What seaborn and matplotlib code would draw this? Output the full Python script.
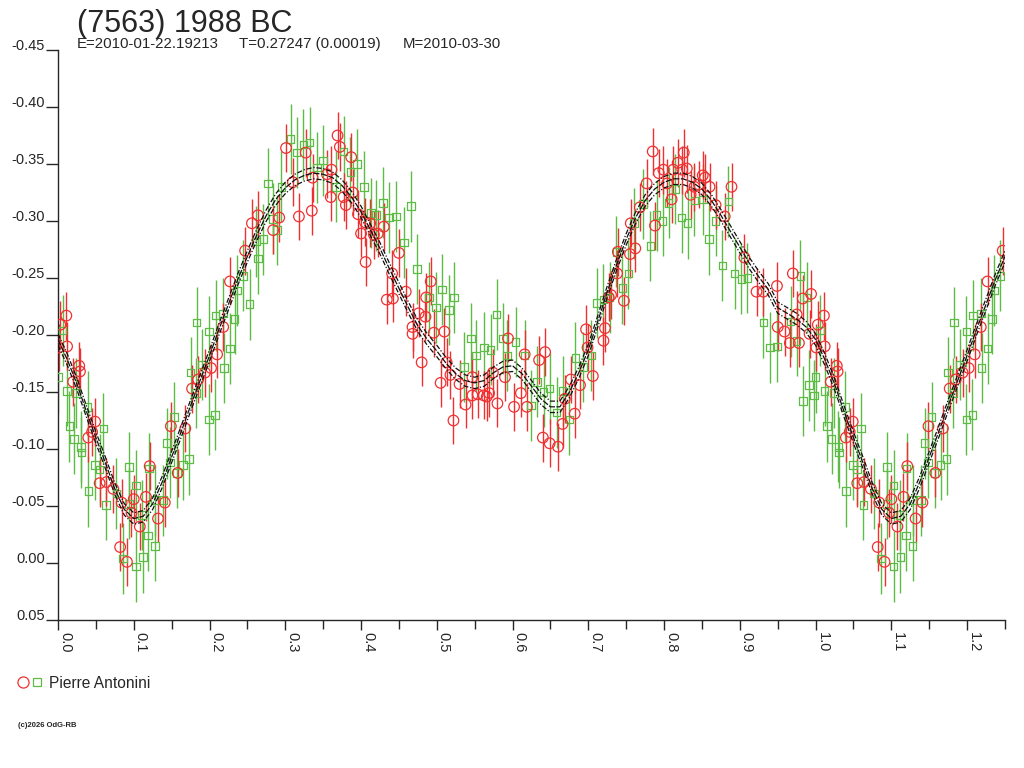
import numpy as np
import pandas as pd
import matplotlib
matplotlib.use("Agg")
import matplotlib.pyplot as plt
import seaborn as sns
from matplotlib.lines import Line2D
from matplotlib.legend_handler import HandlerTuple

# ---------------- data ----------------
title = "(7563) 1988 BC"
subtitle_parts = ["E=2010-01-22.19213", "T=0.27247 (0.00019)", "M=2010-03-30"]
observer = "Pierre Antonini"
copyright_txt = "(c)2026 OdG-RB"

red_phase = [0.001, 0.003, 0.011, 0.012, 0.020, 0.028, 0.029, 0.040, 0.045, 0.049, 0.055, 0.064, 0.073, 0.082,
             0.084, 0.091, 0.097, 0.100, 0.108, 0.116, 0.121, 0.132, 0.141, 0.149, 0.158, 0.168, 0.177, 0.185,
             0.194, 0.202, 0.210, 0.218, 0.227, 0.247, 0.256, 0.264, 0.284, 0.292, 0.301, 0.310, 0.318, 0.327,
             0.335, 0.336, 0.355, 0.360, 0.361, 0.369, 0.372, 0.377, 0.380, 0.387, 0.389, 0.396, 0.400, 0.405,
             0.406, 0.412, 0.417, 0.422, 0.430, 0.434, 0.441, 0.442, 0.450, 0.459, 0.468, 0.468, 0.476, 0.480,
             0.485, 0.486, 0.492, 0.496, 0.505, 0.510, 0.513, 0.518, 0.522, 0.530, 0.538, 0.547, 0.547, 0.554,
             0.562, 0.566, 0.569, 0.574, 0.580, 0.590, 0.594, 0.602, 0.611, 0.616, 0.619, 0.635, 0.640, 0.643,
             0.649, 0.660, 0.666, 0.669, 0.677, 0.682, 0.689, 0.697, 0.699, 0.706, 0.720, 0.722, 0.727, 0.730,
             0.738, 0.739, 0.747, 0.755, 0.756, 0.762, 0.768, 0.777, 0.785, 0.788, 0.793, 0.799, 0.804, 0.810,
             0.812, 0.818, 0.824, 0.826, 0.830, 0.835, 0.840, 0.846, 0.851, 0.854, 0.860, 0.868, 0.880, 0.889,
             0.906, 0.922, 0.931, 0.949, 0.950, 0.959, 0.966, 0.970, 0.975, 0.978, 0.983, 0.992, 0.994]
red_mag = [-0.189, -0.209, -0.217, -0.190, -0.159, -0.173, -0.168, -0.110, -0.115, -0.124, -0.070, -0.071, -0.065, -0.014,
           -0.053, -0.001, -0.044, -0.056, -0.032, -0.058, -0.085, -0.039, -0.053, -0.120, -0.079, -0.118, -0.153, -0.161,
           -0.167, -0.171, -0.183, -0.207, -0.247, -0.274, -0.298, -0.305, -0.292, -0.303, -0.364, -0.334, -0.304, -0.360,
           -0.309, -0.338, -0.341, -0.321, -0.345, -0.375, -0.365, -0.321, -0.314, -0.356, -0.325, -0.306, -0.289, -0.299,
           -0.264, -0.298, -0.288, -0.289, -0.295, -0.231, -0.254, -0.232, -0.272, -0.238, -0.207, -0.201, -0.219, -0.176,
           -0.216, -0.233, -0.247, -0.202, -0.158, -0.203, -0.176, -0.165, -0.125, -0.157, -0.139, -0.163, -0.147, -0.148,
           -0.147, -0.146, -0.149, -0.167, -0.140, -0.163, -0.197, -0.137, -0.149, -0.183, -0.137, -0.178, -0.110, -0.185,
           -0.105, -0.102, -0.122, -0.144, -0.161, -0.131, -0.156, -0.205, -0.189, -0.164, -0.195, -0.206, -0.233, -0.235,
           -0.254, -0.273, -0.230, -0.271, -0.298, -0.276, -0.312, -0.333, -0.361, -0.296, -0.342, -0.345, -0.333, -0.319,
           -0.345, -0.351, -0.345, -0.360, -0.346, -0.323, -0.330, -0.332, -0.340, -0.338, -0.330, -0.314, -0.304, -0.330,
           -0.268, -0.238, -0.238, -0.243, -0.207, -0.203, -0.193, -0.254, -0.218, -0.193, -0.232, -0.201, -0.236]

green_phase = [0.000, 0.006, 0.012, 0.015, 0.021, 0.024, 0.030, 0.031, 0.039, 0.040, 0.049, 0.055, 0.060, 0.063,
               0.077, 0.086, 0.094, 0.094, 0.103, 0.103, 0.111, 0.112, 0.119, 0.120, 0.128, 0.128, 0.139, 0.144,
               0.148, 0.153, 0.157, 0.165, 0.173, 0.175, 0.182, 0.183, 0.190, 0.199, 0.199, 0.207, 0.208, 0.218,
               0.219, 0.227, 0.233, 0.236, 0.244, 0.253, 0.262, 0.264, 0.271, 0.277, 0.284, 0.289, 0.295, 0.307,
               0.315, 0.324, 0.332, 0.342, 0.350, 0.367, 0.377, 0.386, 0.395, 0.404, 0.413, 0.420, 0.429, 0.437,
               0.446, 0.457, 0.466, 0.474, 0.490, 0.499, 0.507, 0.516, 0.523, 0.536, 0.545, 0.552, 0.562, 0.571,
               0.579, 0.587, 0.593, 0.604, 0.616, 0.624, 0.632, 0.641, 0.649, 0.658, 0.666, 0.675, 0.683, 0.693,
               0.704, 0.711, 0.720, 0.728, 0.737, 0.745, 0.753, 0.760, 0.772, 0.782, 0.790, 0.798, 0.806, 0.815,
               0.823, 0.831, 0.840, 0.851, 0.859, 0.868, 0.877, 0.885, 0.893, 0.902, 0.910, 0.931, 0.940, 0.949,
               0.967, 0.975, 0.980, 0.983, 0.988, 0.991, 0.998]
green_mag = [-0.163, -0.204, -0.151, -0.120, -0.109, -0.149, -0.102, -0.097, -0.137, -0.063, -0.086, -0.082, -0.118, -0.051,
             -0.061, -0.004, -0.084, -0.052, -0.068, 0.003, -0.042, -0.005, -0.024, -0.083, -0.015, -0.055, -0.055, -0.105,
             -0.088, -0.128, -0.079, -0.086, -0.091, -0.167, -0.149, -0.211, -0.174, -0.203, -0.126, -0.130, -0.217, -0.219,
             -0.171, -0.188, -0.214, -0.239, -0.252, -0.227, -0.282, -0.267, -0.284, -0.333, -0.302, -0.292, -0.330, -0.372,
             -0.360, -0.367, -0.369, -0.347, -0.353, -0.330, -0.361, -0.343, -0.350, -0.330, -0.307, -0.305, -0.316, -0.303,
             -0.304, -0.281, -0.313, -0.258, -0.233, -0.224, -0.240, -0.222, -0.233, -0.172, -0.197, -0.182, -0.189, -0.187,
             -0.218, -0.197, -0.182, -0.194, -0.182, -0.138, -0.159, -0.150, -0.153, -0.132, -0.151, -0.126, -0.180, -0.172,
             -0.182, -0.228, -0.231, -0.233, -0.273, -0.241, -0.254, -0.298, -0.315, -0.278, -0.305, -0.300, -0.316, -0.328,
             -0.303, -0.298, -0.318, -0.319, -0.284, -0.300, -0.261, -0.317, -0.254, -0.249, -0.250, -0.211, -0.189, -0.190,
             -0.212, -0.195, -0.252, -0.142, -0.233, -0.156, -0.147]

red_err = 0.021
green_err = 0.031

fit_phase = [0.0, 0.0125, 0.025, 0.0375, 0.05, 0.0625, 0.075, 0.0875, 0.1, 0.1125, 0.125, 0.1375, 0.15, 0.1625,
             0.175, 0.1875, 0.2, 0.2125, 0.225, 0.2375, 0.25, 0.2625, 0.275, 0.2875, 0.3, 0.3125, 0.325, 0.3375,
             0.35, 0.3625, 0.375, 0.3875, 0.4, 0.4125, 0.425, 0.4375, 0.45, 0.4625, 0.475, 0.4875, 0.5, 0.5125,
             0.525, 0.5375, 0.55, 0.5625, 0.575, 0.5875, 0.6, 0.6125, 0.625, 0.6375, 0.65, 0.6625, 0.675, 0.6875,
             0.7, 0.7125, 0.725, 0.7375, 0.75, 0.7625, 0.775, 0.7875, 0.8, 0.8125, 0.825, 0.8375, 0.85, 0.8625,
             0.875, 0.8875, 0.9, 0.9125, 0.925, 0.9375, 0.95, 0.9625, 0.975, 0.9875, 1.0]
fit_mag = [-0.196, -0.178, -0.157, -0.133, -0.110, -0.088, -0.065, -0.047, -0.039, -0.041, -0.052, -0.071, -0.093, -0.115,
           -0.138, -0.160, -0.182, -0.205, -0.227, -0.249, -0.269, -0.288, -0.305, -0.319, -0.329, -0.336, -0.340, -0.342,
           -0.341, -0.338, -0.331, -0.321, -0.308, -0.292, -0.276, -0.258, -0.241, -0.224, -0.208, -0.196, -0.186, -0.175,
           -0.166, -0.160, -0.158, -0.160, -0.167, -0.172, -0.173, -0.166, -0.155, -0.144, -0.137, -0.137, -0.150, -0.167,
           -0.187, -0.212, -0.238, -0.262, -0.284, -0.303, -0.318, -0.328, -0.334, -0.337, -0.337, -0.334, -0.328, -0.318,
           -0.305, -0.291, -0.277, -0.263, -0.251, -0.240, -0.224, -0.219, -0.214, -0.207, -0.196]
fit_band = 0.005

x_ticks = [0.0, 0.1, 0.2, 0.3, 0.4, 0.5, 0.6, 0.7, 0.8, 0.9, 1.0, 1.1, 1.2]
x_tick_labels = ["0.0", "0.1", "0.2", "0.3", "0.4", "0.5", "0.6", "0.7", "0.8", "0.9", "1.0", "1.1", "1.2"]
y_ticks = [-0.45, -0.40, -0.35, -0.30, -0.25, -0.20, -0.15, -0.10, -0.05, 0.00, 0.05]
y_tick_labels = ["-0.45", "-0.40", "-0.35", "-0.30", "-0.25", "-0.20", "-0.15", "-0.10", "-0.05", "0.00", "0.05"]

PHASE_WRAP = 0.25  # phases below this are repeated after 1.0


def wrap(phase, mag):
    df = pd.DataFrame({"phase": phase, "mag": mag})
    extra = df[df.phase <= PHASE_WRAP].copy()
    extra["phase"] = extra["phase"] + 1.0
    return pd.concat([df, extra], ignore_index=True)


red_df = wrap(red_phase, red_mag)
green_df = wrap(green_phase, green_mag)
fit_df = wrap(fit_phase[:-1], fit_mag[:-1]).sort_values("phase")

# ---------------- style ----------------
sns.set_theme(style="white")
plt.rcParams["font.family"] = ["Liberation Sans", "DejaVu Sans"]
TXT = "#262626"
RED = "#f03030"
GREEN = "#5cbc44"

fig = plt.figure(figsize=(10.24, 7.68), dpi=100)
ax = fig.add_axes([58 / 1024, 1 - 620 / 768, (1005 - 58) / 1024, (620 - 50) / 768])

# error bars
ax.errorbar(green_df.phase, green_df.mag, yerr=green_err, fmt="none", ecolor=GREEN, elinewidth=1.0, capsize=0, zorder=2)
ax.errorbar(red_df.phase, red_df.mag, yerr=red_err, fmt="none", ecolor=RED, elinewidth=1.0, capsize=0, zorder=2)

# markers
sns.scatterplot(data=green_df, x="phase", y="mag", marker="s", s=30, facecolor="none", edgecolor=GREEN,
                linewidth=0.9, ax=ax, zorder=3)
sns.scatterplot(data=red_df, x="phase", y="mag", marker="o", s=58, facecolor="none", edgecolor=RED,
                linewidth=0.9, ax=ax, zorder=3)

# model curves
sns.lineplot(x=fit_df.phase, y=fit_df.mag - fit_band, color="#111111", lw=0.9, linestyle=(0, (4, 1.5, 1, 1.5)),
             sort=False, estimator=None, errorbar=None, ax=ax, zorder=4)
sns.lineplot(x=fit_df.phase, y=fit_df.mag + fit_band, color="#111111", lw=0.9, linestyle=(0, (4, 1.5, 1, 1.5)),
             sort=False, estimator=None, errorbar=None, ax=ax, zorder=4)
sns.lineplot(x=fit_df.phase, y=fit_df.mag, color="#111111", lw=0.9, linestyle=(0, (5, 1.2)),
             sort=False, estimator=None, errorbar=None, ax=ax, zorder=4)

# axes
ax.set_xlim(0, 1.25)
ax.set_ylim(0.05, -0.45)
ax.set_xlabel("")
ax.set_ylabel("")
for s in ["top", "right"]:
    ax.spines[s].set_visible(False)
for s in ["left", "bottom"]:
    ax.spines[s].set_color(TXT)
    ax.spines[s].set_linewidth(1.0)

ax.set_xticks(x_ticks)
ax.set_xticklabels(x_tick_labels)
ax.set_xticks([t + 0.05 for t in x_ticks], minor=True)
ax.set_yticks(y_ticks)
ax.set_yticklabels(y_tick_labels)
ax.tick_params(axis="x", which="both", direction="out", length=7.5, width=1.0, color=TXT, pad=1,
               labelsize=10.5, labelcolor=TXT, bottom=True)
ax.tick_params(axis="x", which="minor", length=6.5)
ax.tick_params(axis="y", direction="out", length=9, width=1.0, color=TXT, pad=0.5, labelsize=10.5,
               labelcolor=TXT, left=True)
for lbl in ax.get_xticklabels():
    lbl.set_rotation(270)
    lbl.set_ha("left")
    lbl.set_va("top")
for lbl in ax.get_yticklabels():
    lbl.set_va("baseline")

# texts
fig.text(77 / 1024, 1 - 32 / 768, title, fontsize=22, color=TXT, va="baseline", ha="left")
for part, px in zip(subtitle_parts, [77, 239, 403]):
    fig.text(px / 1024, 1 - 48 / 768, part, fontsize=10.8, color=TXT, va="baseline", ha="left")
fig.text(18 / 1024, 1 - 727 / 768, copyright_txt, fontsize=5.5, color=TXT, weight="bold", va="baseline", ha="left")

h = (Line2D([], [], marker="o", ls="none", mfc="none", mec=RED, ms=8, mew=0.9),
     Line2D([], [], marker="s", ls="none", mfc="none", mec=GREEN, ms=5.5, mew=0.9))
fig.legend([h], [observer], handler_map={tuple: HandlerTuple(ndivide=None, pad=0.2)},
           loc="center left", bbox_to_anchor=(10 / 1024, 1 - 683 / 768), frameon=False,
           handlelength=1.6, handletextpad=0.4, fontsize=11.2, labelcolor=TXT, borderpad=0)

fig.savefig("out.png", dpi=100)
